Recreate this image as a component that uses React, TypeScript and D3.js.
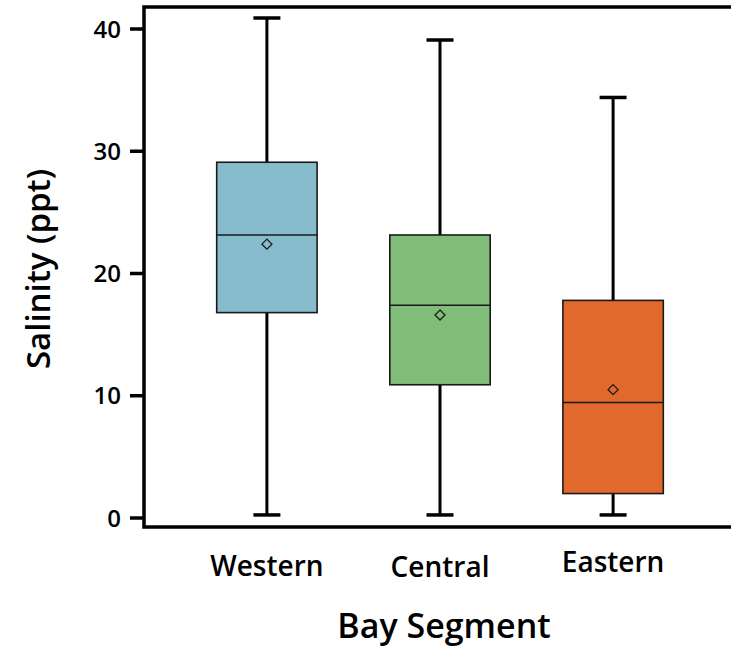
import React, { useEffect, useRef } from 'react';
import * as d3 from 'd3';

const segments = ['Western', 'Central', 'Eastern'];
const whiskerLow = [0.25, 0.25, 0.25];
const q1 = [16.8, 10.9, 2.0];
const median = [23.15, 17.4, 9.45];
const mean = [22.4, 16.6, 10.5];
const q3 = [29.1, 23.15, 17.8];
const whiskerHigh = [40.9, 39.1, 34.4];
const colors = ['#87bccc', '#80bd78', '#e0692b'];
const yTicks = [0, 10, 20, 30, 40];
// label baselines are not perfectly aligned in the original
const labelShift = [0, 1, -4];

const FONT = '"Open Sans", Lato, sans-serif';

const App = () => {
  const ref = useRef(null);

  useEffect(() => {
    const svg = d3.select(ref.current);
    svg.selectAll('*').remove();

    const left = 144, right = 736, top = 7, bottom = 527;

    const x = d3.scalePoint()
      .domain(segments)
      .range([left, right])
      .padding(0.71);
    const step = x.step();
    const boxW = step * 0.58;
    const capW = 27;

    const y = d3.scaleLinear()
      .domain([0, 40])
      .range([518, 29]);

    const rows = segments.map((s, i) => ({
      name: s, lo: whiskerLow[i], q1: q1[i], med: median[i],
      mean: mean[i], q3: q3[i], hi: whiskerHigh[i], color: colors[i], shift: labelShift[i]
    }));

    const g = svg.append('g');

    // whiskers
    g.selectAll('.whisk')
      .data(rows)
      .enter().append('line')
      .attr('x1', d => x(d.name))
      .attr('x2', d => x(d.name))
      .attr('y1', d => y(d.lo))
      .attr('y2', d => y(d.hi))
      .attr('stroke', '#000')
      .attr('stroke-width', 3);

    ['lo', 'hi'].forEach(k => {
      g.selectAll('.cap-' + k)
        .data(rows)
        .enter().append('line')
        .attr('x1', d => x(d.name) - capW / 2)
        .attr('x2', d => x(d.name) + capW / 2)
        .attr('y1', d => y(d[k]))
        .attr('y2', d => y(d[k]))
        .attr('stroke', '#000')
        .attr('stroke-width', 3.5);
    });

    g.selectAll('.box')
      .data(rows)
      .enter().append('rect')
      .attr('x', d => x(d.name) - boxW / 2)
      .attr('y', d => y(d.q3))
      .attr('width', boxW)
      .attr('height', d => y(d.q1) - y(d.q3))
      .attr('fill', d => d.color)
      .attr('stroke', '#1a1a1a')
      .attr('stroke-width', 1.6);

    g.selectAll('.med')
      .data(rows)
      .enter().append('line')
      .attr('x1', d => x(d.name) - boxW / 2)
      .attr('x2', d => x(d.name) + boxW / 2)
      .attr('y1', d => y(d.med))
      .attr('y2', d => y(d.med))
      .attr('stroke', '#1a1a1a')
      .attr('stroke-width', 1.6);

    g.selectAll('.mean')
      .data(rows)
      .enter().append('path')
      .attr('d', d => {
        const cx = x(d.name), cy = y(d.mean), r = 5;
        return `M${cx},${cy - r}L${cx + r},${cy}L${cx},${cy + r}L${cx - r},${cy}Z`;
      })
      .attr('fill', 'none')
      .attr('stroke', '#1a1a1a')
      .attr('stroke-width', 1.3);

    // frame
    svg.append('rect')
      .attr('x', left)
      .attr('y', top)
      .attr('width', right - left)
      .attr('height', bottom - top)
      .attr('fill', 'none')
      .attr('stroke', '#000')
      .attr('stroke-width', 3.5);

    // y ticks
    const yAxis = svg.append('g');
    yAxis.selectAll('line')
      .data(yTicks)
      .enter().append('line')
      .attr('x1', left - 14)
      .attr('x2', left)
      .attr('y1', d => y(d))
      .attr('y2', d => y(d))
      .attr('stroke', '#000')
      .attr('stroke-width', 3.5);
    yAxis.selectAll('text')
      .data(yTicks)
      .enter().append('text')
      .attr('x', left - 23)
      .attr('y', d => y(d))
      .attr('dy', '0.36em')
      .attr('text-anchor', 'end')
      .style('font-family', FONT)
      .style('font-size', '24px')
      .style('font-weight', 600)
      .text(d => d);

    // x labels
    svg.selectAll('.xl')
      .data(rows)
      .enter().append('text')
      .attr('x', d => x(d.name))
      .attr('y', d => 576 + d.shift)
      .attr('text-anchor', 'middle')
      .style('font-family', FONT)
      .style('font-size', '28px')
      .style('font-weight', 600)
      .text(d => d.name);

    svg.append('text')
      .attr('x', (left + right) / 2 + 4)
      .attr('y', 638)
      .attr('text-anchor', 'middle')
      .style('font-family', FONT)
      .style('font-size', '34px')
      .style('font-weight', 600)
      .text('Bay Segment');

    svg.append('text')
      .attr('transform', `translate(50,${(top + bottom) / 2 + 2}) rotate(-90)`)
      .attr('text-anchor', 'middle')
      .style('font-family', FONT)
      .style('font-size', '33px')
      .style('font-weight', 600)
      .text('Salinity (ppt)');
  }, []);

  return (
    <svg ref={ref} width={731} height={655}
      style={{ position: 'absolute', left: 0, top: 0, background: '#fff' }} />
  );
};

export default App;
